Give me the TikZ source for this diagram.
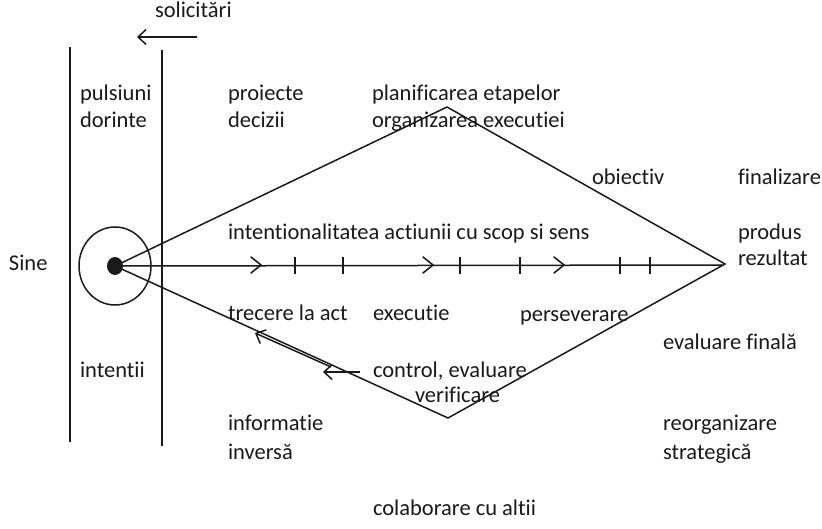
\documentclass[tikz,border=0pt]{standalone}
\usepackage{fontspec}
\setmainfont{Carlito}[Ligatures={NoCommon,NoRare,NoContextual}]
\usetikzlibrary{arrows.meta}
\definecolor{ink}{HTML}{1A1A1A}
\tikzset{
  lbl/.style={anchor=west, inner sep=0pt, outer sep=0pt, text=ink,
    font=\fontsize{22.5}{27}\selectfont, text height=0.7em, text depth=0.2em},
  ln/.style={draw=ink, line width=1.5pt},
  arr/.style={ln, -{Straight Barb[length=8pt,width=15pt,line width=1.5pt]}},
  chev/.style={ln, line cap=round, line join=miter},
  tick/.style={ln}
}
\begin{document}
\begin{tikzpicture}[x=1pt,y=-1pt]
\path[use as bounding box, fill=white] (0,0) rectangle (822,529);

% key points
\coordinate (c) at (115,266);
\coordinate (top) at (447,107);
\coordinate (bot) at (448,418);
\coordinate (right) at (725,264);
\coordinate (mainend) at (722,265);
\coordinate (v1a) at (70,47);  \coordinate (v1b) at (70,442);
\coordinate (v2a) at (162,50); \coordinate (v2b) at (162,446);
\coordinate (sa) at (197,37);  \coordinate (sb) at (137,37);
\coordinate (fa) at (331,366); \coordinate (fb) at (255,332);
\coordinate (ha) at (360,372); \coordinate (hb) at (323,372);

% vertical lines
\draw[ln] (v1a) -- (v1b);
\draw[ln] (v2a) -- (v2b);

% solicitari arrow
\draw[arr] (sa) -- (sb);

% circle and dot
\draw[ln] (c) ellipse [x radius=36, y radius=39];
\fill[ink] (c) ellipse [x radius=8, y radius=9];

% main line
\draw[ln] (c) -- (mainend);
% chevrons on main line
\foreach \x in {261,433,564}{
  \draw[chev] (\x-10,257) -- (\x,265) -- (\x-10,273);
}
% ticks
\foreach \x in {295,343,460,520,620,650}{
  \draw[tick] (\x,257) -- (\x,274);
}

% diamond
\draw[ln] (c) -- (top) -- (right) -- (bot) -- cycle;

% feedback arrows
\draw[arr] ([yshift=-1pt]fa) -- ([yshift=-1pt]fb);
\draw[arr] (ha) -- (hb);

% labels
\node[lbl] (solicitari) at (155,15) {solicitări};
\node[lbl] (pulsiuni) at (80,98) {pulsiuni};
\node[lbl] (dorinte) at (80,125) {dorinte};
\node[lbl] (proiecte) at (228,98) {proiecte};
\node[lbl] (decizii) at (228,125) {decizii};
\node[lbl] (planif) at (372,98) {planificarea etapelor};
\node[lbl] (organiz) at (372,125) {organizarea executiei};
\node[lbl] (obiectiv) at (592,182) {obiectiv};
\node[lbl] (finalizare) at (738,182) {finalizare};
\node[lbl] (sine) at (9,268) {Sine};
\node[lbl] (intent) at (228,237) {intentionalitatea actiunii cu scop si sens};
\node[lbl] (produs) at (738,237) {produs};
\node[lbl] (rezultat) at (738,263) {rezultat};
\node[lbl] (trecere) at (228,318) {trecere la act};
\node[lbl] (executie) at (373,318) {executie};
\node[lbl] (persev) at (520,319) {perseverare};
\node[lbl] (evalfin) at (663,347) {evaluare finală};
\node[lbl] (intentii) at (80,375) {intentii};
\node[lbl] (control) at (373,375) {control, evaluare};
\node[lbl] (verif) at (415,400) {verificare};
\node[lbl] (inform) at (228,428) {informatie};
\node[lbl] (inversa) at (228,457) {inversă};
\node[lbl] (reorg) at (663,428) {reorganizare};
\node[lbl] (strateg) at (663,457) {strategică};
\node[lbl] (colab) at (373,513) {colaborare cu altii};
\end{tikzpicture}
\end{document}
